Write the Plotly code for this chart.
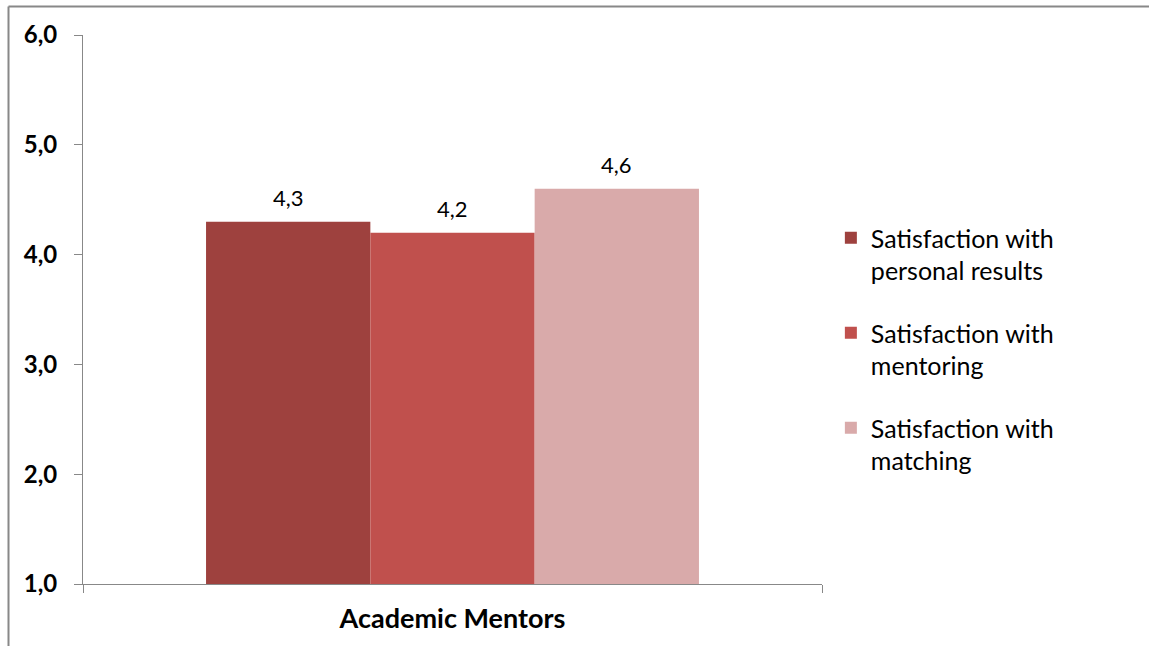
import plotly.graph_objects as go

categories = ["Academic Mentors"]
series_names = ["Satisfaction with<br>personal results",
                "Satisfaction with<br>mentoring",
                "Satisfaction with<br>matching"]
series_values = [[4.3], [4.2], [4.6]]
series_colors = ["#9E413E", "#C0504D", "#D9AAAA"]
y_ticks = [1, 2, 3, 4, 5, 6]

FONT = "Lato"
BARGAP = 0.333
n = len(series_names)

W, H = 1149, 646
L, T, R, B = 83, 35, 327, 62
PW, PH = W - L - R, H - T - B


def px_x(fx):
    return (fx - L) / PW


def px_y(fy):
    return (H - B - fy) / PH


fig = go.Figure()
for i, (name, vals, col) in enumerate(zip(series_names, series_values, series_colors)):
    fig.add_trace(go.Bar(
        x=categories, y=vals, name=name, marker_color=col,
        marker_line_width=0, legendgroup=f"g{i}",
    ))

annotations = []
bw = (1 - BARGAP) / n
for i, vals in enumerate(series_values):
    for j, v in enumerate(vals):
        annotations.append(dict(
            x=j + (i - (n - 1) / 2) * bw, y=v, xref="x", yref="y",
            text=f"{v:.1f}".replace(".", ","), showarrow=False,
            yanchor="middle", yshift=24,
            font=dict(family=FONT, size=22, color="#000000"),
        ))

border = dict(color="#888888", width=2)
fig.update_layout(
    width=W, height=H,
    margin=dict(l=L, r=R, t=T, b=B, autoexpand=False),
    paper_bgcolor="white", plot_bgcolor="white",
    barmode="group", bargap=BARGAP, bargroupgap=0,
    separators=",.",
    showlegend=True,
    legend=dict(
        x=1.012, xanchor="left", y=0.672, yanchor="top",
        font=dict(family=FONT, size=25, color="#000000"),
        valign="top", tracegroupgap=27, itemclick=False,
        bgcolor="rgba(0,0,0,0)",
    ),
    annotations=annotations,
    shapes=[
        dict(type="line", xref="paper", yref="paper",
             x0=px_x(8.5), x1=px_x(8.5), y0=px_y(H + 20), y1=px_y(6.5),
             line=border, layer="below"),
        dict(type="line", xref="paper", yref="paper",
             x0=px_x(8.5), x1=px_x(W + 20), y0=px_y(6.5), y1=px_y(6.5),
             line=border, layer="below"),
    ],
)

fig.update_yaxes(
    range=[1, 6], tickvals=y_ticks, tickformat=".1f",
    showgrid=False, zeroline=False, automargin=False,
    showline=True, linecolor="#888888", linewidth=1,
    ticks="outside", ticklen=8, tickcolor="#888888",
    ticklabelstandoff=12,
    tickfont=dict(family=FONT, size=24, color="#000000", weight="bold"),
)
fig.update_xaxes(
    type="category", showgrid=False, zeroline=False, automargin=False,
    showline=True, linecolor="#888888", linewidth=1,
    ticks="outside", ticklen=8, tickcolor="#888888",
    tickson="boundaries", ticklabelstandoff=11,
    tickfont=dict(family=FONT, size=27, color="#000000", weight="bold"),
)

fig.write_html(
    "out.html",
    config={"displayModeBar": False},
    post_script="document.body.style.margin='0';document.body.style.overflow='hidden';",
)
